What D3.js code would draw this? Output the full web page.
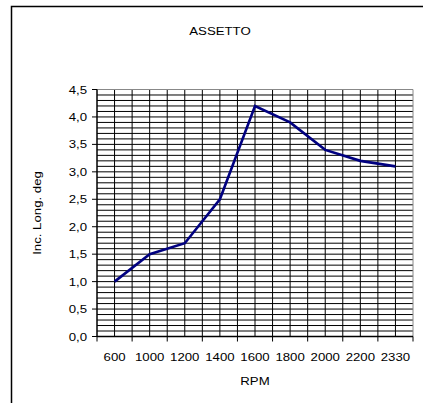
<!DOCTYPE html>
<html><head><meta charset="utf-8">
<script src="https://cdn.jsdelivr.net/npm/d3@7"></script>
<style>body{margin:0;background:#fff}svg{display:block}text{font-family:"Liberation Sans",Arial,sans-serif;font-size:11.5px;fill:#000}</style>
</head><body><svg id="c" width="423" height="403"></svg>
<script>
const categories = ["600","1000","1200","1400","1600","1800","2000","2200","2330"];
const values = [1.0,1.5,1.7,2.5,4.2,3.9,3.4,3.2,3.1];
const yTicks = [0,0.5,1,1.5,2,2.5,3,3.5,4,4.5];
const title = "ASSETTO", xTitle = "RPM", yTitle = "Inc. Long. deg";

const svg = d3.select("#c");
const L=97, R=413, T=89.5, B=336.5, SX=1.15;
function label(g, px, py, str, anchor, rot){
  return g.append("text").attr("transform",`translate(${px},${py})${rot?` rotate(${rot})`:""} scale(${SX},1)`)
    .attr("text-anchor",anchor).text(str);
}
// frame
svg.append("path").attr("d","M11.5,403V6.5H423").attr("fill","none").attr("stroke","#000").attr("stroke-width",1.5);

const x = d3.scaleBand().domain(categories).range([L,R]).padding(0);
const y = d3.scaleLinear().domain([0,4.5]).range([B,T]);

// horizontal minor gridlines every 0.1
const hg = d3.range(1,45).map(i=>i/10);
svg.append("g").selectAll("line").data(hg).join("line")
  .attr("x1",L).attr("x2",R).attr("y1",d=>y(d)).attr("y2",d=>y(d))
  .attr("stroke","#000").attr("stroke-width",1);
// vertical gridlines at category centers and boundaries
const vg = [];
categories.forEach((c,i)=>{ if(i>0) vg.push(x(c)); vg.push(x(c)+x.bandwidth()/2); });
svg.append("g").selectAll("line").data(vg).join("line")
  .attr("x1",d=>d).attr("x2",d=>d).attr("y1",T).attr("y2",B)
  .attr("stroke","#000").attr("stroke-width",1);
// plot border top/right grey
svg.append("path").attr("d",`M${L},${T}H${R}V${B}`).attr("fill","none").attr("stroke","#888").attr("stroke-width",1);

// y axis
const gy = svg.append("g");
gy.append("line").attr("x1",L).attr("x2",L).attr("y1",T).attr("y2",B).attr("stroke","#000").attr("stroke-width",1.5);
gy.selectAll("line.t").data(yTicks).join("line").attr("class","t")
  .attr("x1",L-5).attr("x2",L).attr("y1",d=>y(d)).attr("y2",d=>y(d)).attr("stroke","#000");
yTicks.forEach(d=>label(gy, 87, y(d)+4, d3.format(".1f")(d).replace(".",","), "end"));

// x axis
const gx = svg.append("g");
gx.append("line").attr("x1",L).attr("x2",R).attr("y1",B).attr("y2",B).attr("stroke","#000").attr("stroke-width",1.5);
const bounds = categories.map(c=>x(c)).concat([R]);
gx.selectAll("line.t").data(bounds).join("line").attr("class","t")
  .attr("x1",d=>d).attr("x2",d=>d).attr("y1",B).attr("y2",B+5).attr("stroke","#000");
categories.forEach(c=>label(gx, x(c)+x.bandwidth()/2, 360.5, c, "middle"));

// line
const line = d3.line().x((d,i)=>x(categories[i])+x.bandwidth()/2).y(d=>y(d));
svg.append("path").datum(values).attr("d",line).attr("fill","none")
  .attr("stroke","#000080").attr("stroke-width",2.6).attr("stroke-linejoin","miter");

// titles
label(svg, 220, 35, title, "middle");
label(svg, (L+R)/2, 385, xTitle, "middle");
label(svg, 41, (T+B)/2, yTitle, "middle", -90);
</script></body></html>
